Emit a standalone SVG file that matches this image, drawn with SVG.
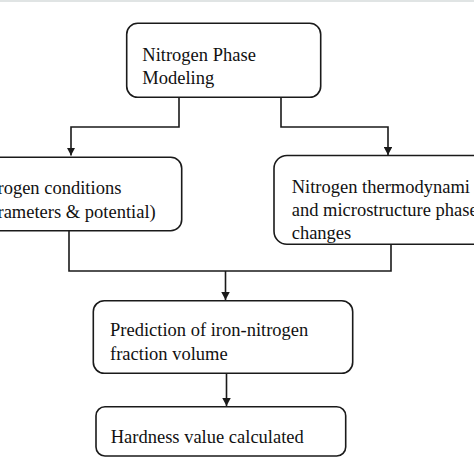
<svg xmlns="http://www.w3.org/2000/svg" width="474" height="474" viewBox="0 0 474 474">
<style>
.box{fill:#fff;stroke:#1a1a1a;stroke-width:1.6}
.t{font-family:"Liberation Serif","Times New Roman",serif;font-size:18.5px;fill:#111}
.c{fill:none;stroke:#1a1a1a;stroke-width:1.6}
</style>
<defs>
<marker id="ah" viewBox="0 0 10 10" refX="10" refY="5" markerWidth="8" markerHeight="8.5" markerUnits="userSpaceOnUse" orient="auto" preserveAspectRatio="none">
<path d="M0,0 L10,5 L0,10 Z" fill="#1a1a1a"/>
</marker>
</defs>
<rect width="474" height="474" fill="#fff"/>
<rect x="0" y="0" width="474" height="2" fill="#e0e4e4"/>
<g id="connectors">
<path class="c" d="M179,97.5 V127 H71 V155.5" marker-end="url(#ah)"/>
<path class="c" d="M281,97.5 V127 H388 V155" marker-end="url(#ah)"/>
<path class="c" d="M69,231 V271 H391 V244.5"/>
<path class="c" d="M225.5,271 V300" marker-end="url(#ah)"/>
<path class="c" d="M226.5,373.5 V406" marker-end="url(#ah)"/>
</g>
<g id="n1">
<rect class="box" x="126.7" y="23.3" width="194" height="74" rx="11"/>
<text class="t" x="142.3" y="60.7">Nitrogen Phase</text>
<text class="t" x="142.3" y="84">Modeling</text>
</g>
<g id="n2">
<rect class="box" x="-20" y="157.3" width="201.7" height="73.4" rx="11"/>
<text class="t" x="-2.5" y="194.3">rogen conditions</text>
<text class="t" x="-2.5" y="217.7">rameters &amp; potential)</text>
</g>
<g id="n3">
<rect class="box" x="274" y="155.5" width="220" height="88.8" rx="13"/>
<text class="t" x="291.7" y="193.3">Nitrogen thermodynami</text>
<text class="t" x="291.7" y="215.5">and microstructure phase</text>
<text class="t" x="291.7" y="239">changes</text>
</g>
<g id="n4">
<rect class="box" x="93.3" y="300.7" width="259.4" height="72.6" rx="11"/>
<text class="t" x="110" y="336.3">Prediction of iron-nitrogen</text>
<text class="t" x="110" y="360">fraction volume</text>
</g>
<g id="n5">
<rect class="box" x="96" y="406.7" width="249.7" height="49.3" rx="9"/>
<text class="t" x="110.7" y="442.7">Hardness value calculated</text>
</g>
</svg>
